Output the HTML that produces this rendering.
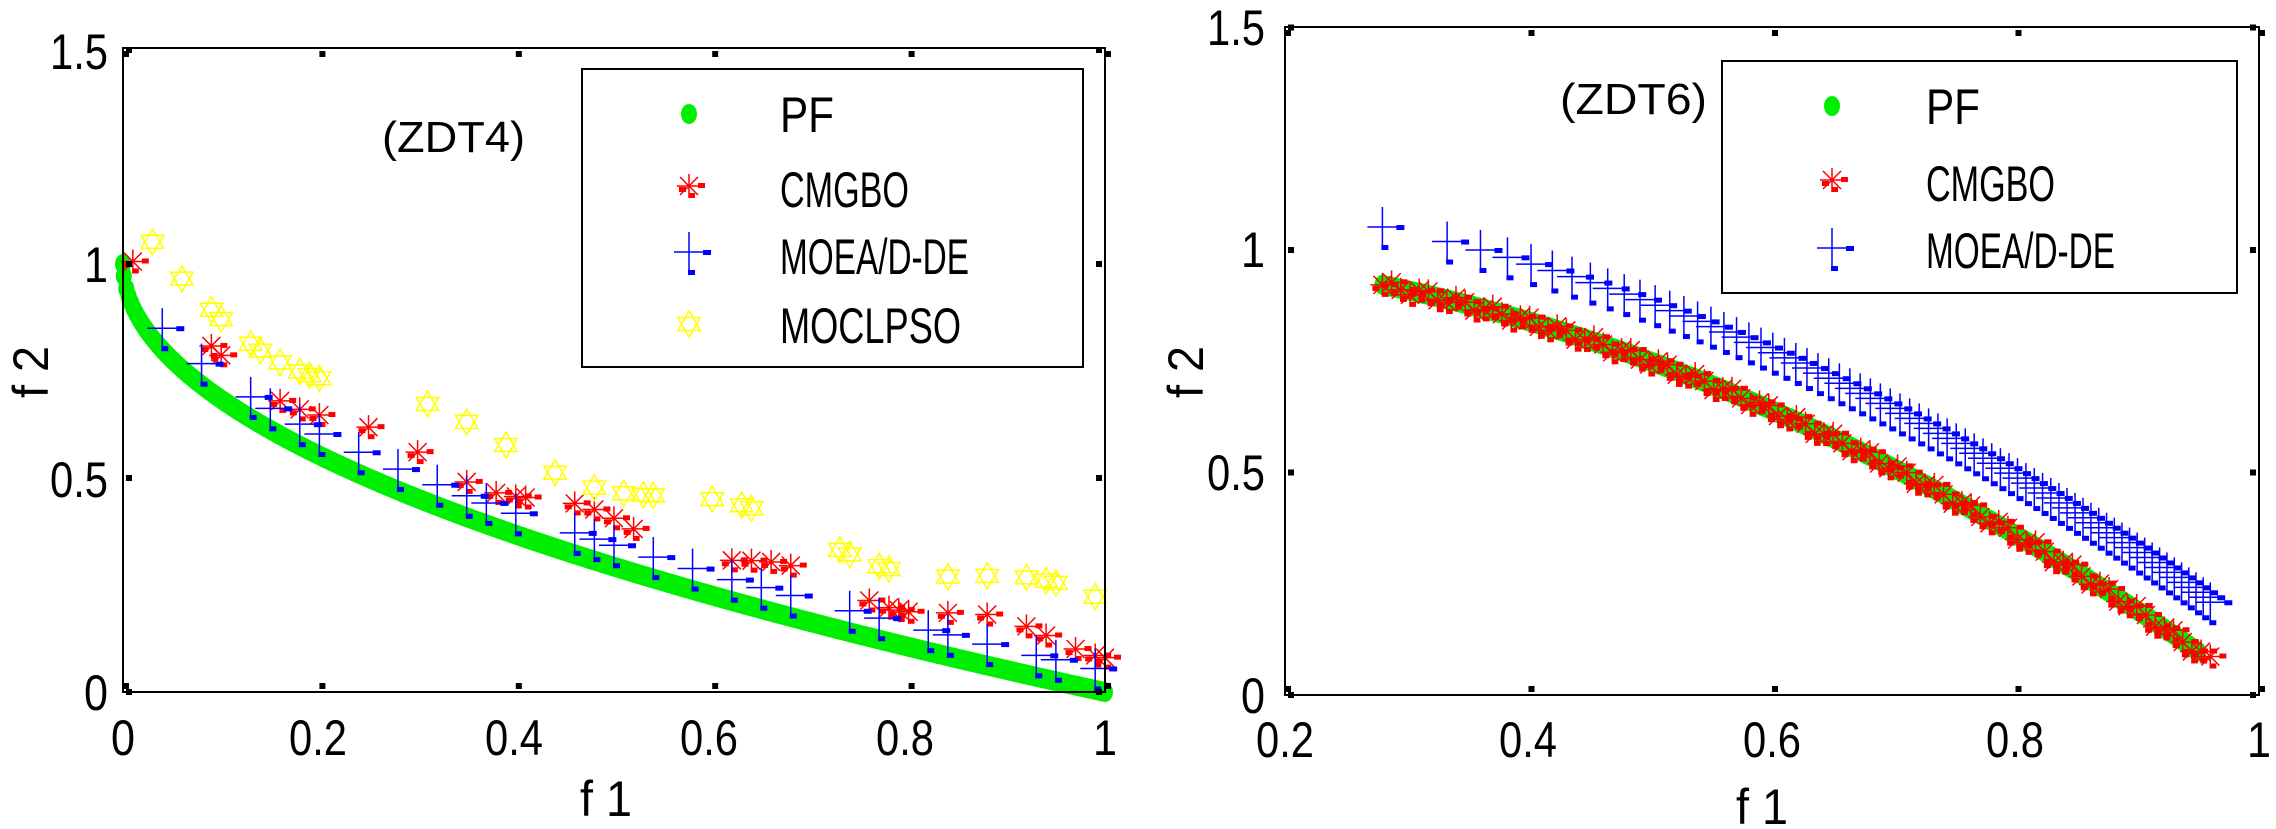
<!DOCTYPE html>
<html><head><meta charset="utf-8"><style>
html,body{margin:0;padding:0;background:#fff;}
svg{display:block;}
text{font-family:"Liberation Sans",sans-serif;fill:#000;}
</style></head><body>
<svg id="s" width="2276" height="829" viewBox="0 0 2276 829" xmlns="http://www.w3.org/2000/svg">
<rect width="2276" height="829" fill="#fff"/>
<g id="L"></g><g id="R"></g>
<!-- Left axes -->
<rect x="123" y="48" width="982" height="644" fill="none" stroke="#000" stroke-width="2"/>
<g font-size="50" text-anchor="end" lengthAdjust="spacingAndGlyphs">
<text x="108" y="710" textLength="24" lengthAdjust="spacingAndGlyphs">0</text><text x="108" y="497" textLength="58" lengthAdjust="spacingAndGlyphs">0.5</text><text x="108" y="282" textLength="24" lengthAdjust="spacingAndGlyphs">1</text><text x="108" y="69" textLength="58" lengthAdjust="spacingAndGlyphs">1.5</text>
</g>
<g font-size="50" text-anchor="middle">
<text x="123" y="755" textLength="24" lengthAdjust="spacingAndGlyphs">0</text><text x="318" y="755" textLength="58" lengthAdjust="spacingAndGlyphs">0.2</text><text x="514" y="755" textLength="58" lengthAdjust="spacingAndGlyphs">0.4</text><text x="709" y="755" textLength="58" lengthAdjust="spacingAndGlyphs">0.6</text><text x="905" y="755" textLength="58" lengthAdjust="spacingAndGlyphs">0.8</text><text x="1105" y="755" textLength="24" lengthAdjust="spacingAndGlyphs">1</text>
<text x="606" y="816" textLength="52" lengthAdjust="spacingAndGlyphs">f 1</text>
</g>
<text font-size="50" text-anchor="middle" textLength="52" lengthAdjust="spacingAndGlyphs" transform="translate(48,372) rotate(-90)">f 2</text>
<text x="382" y="152" font-size="44" textLength="143" lengthAdjust="spacingAndGlyphs">(ZDT4)</text>
<rect x="582" y="69" width="501" height="298" fill="#fff" stroke="#000" stroke-width="2"/>
<g font-size="50"><text x="780" y="132" textLength="54" lengthAdjust="spacingAndGlyphs">PF</text><text x="780" y="207" textLength="129" lengthAdjust="spacingAndGlyphs">CMGBO</text><text x="780" y="274" textLength="189" lengthAdjust="spacingAndGlyphs">MOEA/D-DE</text><text x="780" y="343" textLength="181" lengthAdjust="spacingAndGlyphs">MOCLPSO</text></g>
<!-- Right axes -->
<rect x="1285" y="27" width="974" height="668" fill="none" stroke="#000" stroke-width="2"/>
<g font-size="50" text-anchor="end">
<text x="1265" y="713" textLength="24" lengthAdjust="spacingAndGlyphs">0</text><text x="1265" y="490" textLength="58" lengthAdjust="spacingAndGlyphs">0.5</text><text x="1265" y="267" textLength="24" lengthAdjust="spacingAndGlyphs">1</text><text x="1265" y="45" textLength="58" lengthAdjust="spacingAndGlyphs">1.5</text>
</g>
<g font-size="50" text-anchor="middle">
<text x="1285" y="757" textLength="58" lengthAdjust="spacingAndGlyphs">0.2</text><text x="1528" y="757" textLength="58" lengthAdjust="spacingAndGlyphs">0.4</text><text x="1772" y="757" textLength="58" lengthAdjust="spacingAndGlyphs">0.6</text><text x="2015" y="757" textLength="58" lengthAdjust="spacingAndGlyphs">0.8</text><text x="2259" y="757" textLength="24" lengthAdjust="spacingAndGlyphs">1</text>
<text x="1762" y="824" textLength="52" lengthAdjust="spacingAndGlyphs">f 1</text>
</g>
<text font-size="50" text-anchor="middle" textLength="52" lengthAdjust="spacingAndGlyphs" transform="translate(1203,372) rotate(-90)">f 2</text>
<text x="1560" y="114" font-size="44" textLength="147" lengthAdjust="spacingAndGlyphs">(ZDT6)</text>
<rect x="1722" y="61" width="515" height="232" fill="#fff" stroke="#000" stroke-width="2"/>
<g font-size="50"><text x="1926" y="124" textLength="54" lengthAdjust="spacingAndGlyphs">PF</text><text x="1926" y="201" textLength="129" lengthAdjust="spacingAndGlyphs">CMGBO</text><text x="1926" y="268" textLength="189" lengthAdjust="spacingAndGlyphs">MOEA/D-DE</text></g>
<g id="LG"></g>
</svg>
<script>
var NS="http://www.w3.org/2000/svg";
function el(p,t,a){var e=document.createElementNS(NS,t);for(var k in a)e.setAttribute(k,a[k]);p.appendChild(e);return e;}
var L=document.getElementById('L'),R=document.getElementById('R'),LG=document.getElementById('LG');
function dot(g,x,y){el(g,'ellipse',{cx:x,cy:y,rx:8,ry:10,fill:'#00ee00'});}
function ast(g,x,y){var s=12;var st={stroke:'#f00','stroke-width':1.5};
el(g,'line',Object.assign({x1:x-s,y1:y,x2:x+s,y2:y},st));el(g,'line',Object.assign({x1:x,y1:y-s,x2:x,y2:y+s},st));
el(g,'line',Object.assign({x1:x-9,y1:y-9,x2:x+9,y2:y+9},st));el(g,'line',Object.assign({x1:x-9,y1:y+9,x2:x+9,y2:y-9},st));
el(g,'rect',{x:x-10,y:y+1,width:7,height:5,fill:'#f00'});el(g,'rect',{x:x+9,y:y-3,width:7,height:5,fill:'#f00'});el(g,'rect',{x:x,y:y+7,width:6,height:5,fill:'#f00'});}
function plus(g,x,y){var st={stroke:'#00f','stroke-width':1.5};
el(g,'line',Object.assign({x1:x-15,y1:y,x2:x+15,y2:y},st));el(g,'line',Object.assign({x1:x,y1:y-20,x2:x,y2:y+20},st));
el(g,'rect',{x:x+14,y:y-2,width:8,height:5,fill:'#00f'});el(g,'rect',{x:x-1,y:y+18,width:7,height:5,fill:'#00f'});}
function star(g,x,y){var s=13,p1=[],p2=[];for(var i=0;i<3;i++){var a=-Math.PI/2+i*2*Math.PI/3;p1.push((x+s*Math.cos(a))+','+(y+s*Math.sin(a)));a+=Math.PI;p2.push((x+s*Math.cos(a))+','+(y+s*Math.sin(a)));}
el(g,'polygon',{points:p1.join(' '),fill:'none',stroke:'#ff0','stroke-width':1.5});el(g,'polygon',{points:p2.join(' '),fill:'none',stroke:'#ff0','stroke-width':1.5});}
// left
function LX(f){return 123+f*982;}function LY(v){return 692-v*428;}
dot(L,LX(0),LY(1));
for(var i=0;i<=400;i++){var f=0.0008+i/400*0.9992;dot(L,LX(f),LY(1-Math.sqrt(f)));}
var r=[0.01,0.09,0.1,0.16,0.18,0.2,0.25,0.3,0.35,0.38,0.4,0.41,0.46,0.48,0.5,0.52,0.62,0.64,0.66,0.68,0.76,0.78,0.79,0.8,0.84,0.88,0.92,0.94,0.97,0.99,1.0];
r.forEach(function(f){ast(L,LX(f),LY(1-Math.sqrt(f)+0.1+0.02*Math.sin(f*30)));});
var b=[0.04,0.08,0.13,0.15,0.18,0.2,0.24,0.28,0.32,0.35,0.37,0.4,0.46,0.48,0.5,0.54,0.58,0.62,0.65,0.68,0.74,0.77,0.82,0.84,0.88,0.93,0.95,0.99];
b.forEach(function(f){plus(L,LX(f),LY(1-Math.sqrt(f)+0.05));});
var y=[0.03,0.06,0.09,0.1,0.13,0.14,0.16,0.18,0.19,0.2,0.31,0.35,0.39,0.44,0.48,0.51,0.53,0.54,0.6,0.63,0.64,0.73,0.74,0.77,0.78,0.84,0.88,0.92,0.94,0.95,0.99];
y.forEach(function(f){star(L,LX(f),LY(1-Math.sqrt(f)+0.2+0.03*Math.cos(f*20)));});
// right
function RX(f){return 1285+(f-0.2)/0.8*974;}function RY(v){return 695-v*445;}
for(var i=0;i<=400;i++){var f=0.28+i/400*0.67;dot(R,RX(f),RY(1-f*f));}
for(var i=0;i<=90;i++){var f=0.28+i/90*0.68;ast(R,RX(f),RY(1-f*f+0.01*Math.sin(i*1.7)));}
for(var i=0;i<=70;i++){var f=0.28+Math.pow(i/70,0.6)*0.68;plus(R,RX(f),RY(1-f*f+0.13));}
// legend markers
dot(LG,689,114);ast(LG,689,186);plus(LG,689,252);star(LG,689,324);
dot(LG,1832,106);ast(LG,1832,180);plus(LG,1832,248);
function tk(x,y){el(LG,'rect',{x:x-3,y:y-3,width:6,height:6,fill:'#000'});}
[0,0.2,0.4,0.6,0.8,1].forEach(function(f){tk(LX(f)+3,686);tk(LX(f)+3,54);});
[0,0.5,1,1.5].forEach(function(v){tk(129,LY(v));tk(1099,LY(v));});
[0.2,0.4,0.6,0.8,1].forEach(function(f){tk(RX(f)+3,689);tk(RX(f)+3,33);});
[0,0.5,1,1.5].forEach(function(v){tk(1291,RY(v));tk(2253,RY(v));});
</script>
</body></html>
